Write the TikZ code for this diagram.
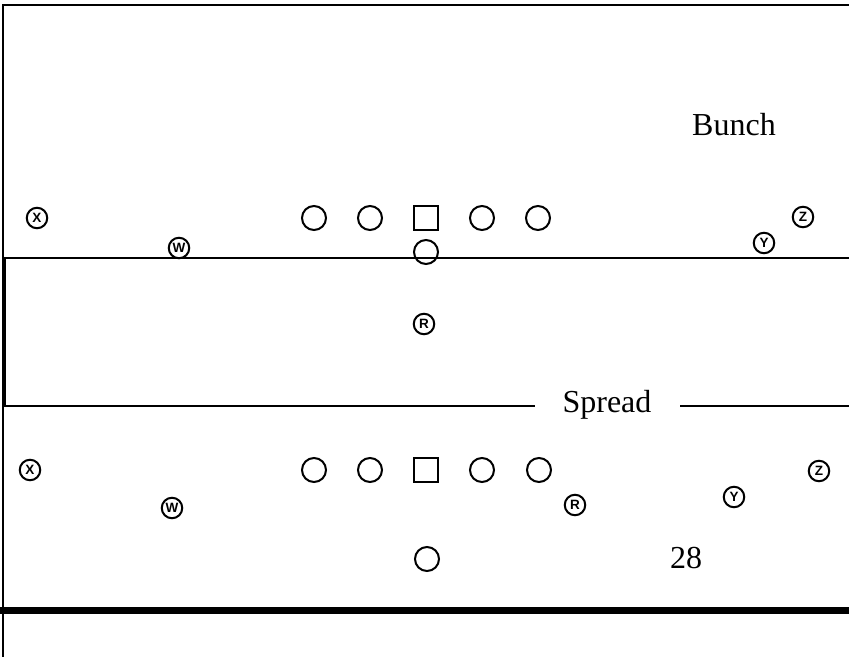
\documentclass[tikz,border=0pt]{standalone}
\usepackage{fontspec}
\setmainfont{Liberation Serif}
\newfontfamily\tagfont{Liberation Sans}
\begin{document}
\begin{tikzpicture}[x=1pt,y=-1pt,
  rule/.style={line width=2pt},
  thickrule/.style={line width=7pt},
  skill/.style={circle,draw,line width=2pt,minimum size=20.5pt,inner sep=0pt,
    font=\tagfont\bfseries\fontsize{13.5}{14}\selectfont},
  lineman/.style={circle,draw,line width=2pt,minimum size=24pt,inner sep=0pt},
  snapper/.style={rectangle,draw,line width=2pt,minimum size=24pt,inner sep=0pt},
  title/.style={anchor=base,inner sep=0pt,font=\fontsize{32}{36}\selectfont}]
\useasboundingbox (0,0) rectangle (849,657);

% field outline and yard lines
\draw[rule] (849,5) -- (3,5) -- (3,657);
\draw[rule] (3,258) -- (849,258);
\draw[rule] (4.8,258) -- (4.8,407);
\draw[thickrule] (0,610) -- (849,610);

% ---- Bunch formation ----
\node[title] (bunch) at (734,135) {Bunch};
\node[lineman] (lt1) at (314,218) {};
\node[lineman] (lg1) at (370,218) {};
\node[snapper] (c1) at (426,218) {};
\node[lineman] (rg1) at (482,218) {};
\node[lineman] (rt1) at (538,218) {};
\node[lineman] (qb1) at (426,252) {};
\node[skill] (x1) at (37,218) {X};
\node[skill] (w1) at (179,248) {W};
\node[skill] (r1) at (424,324) {R};
\node[skill] (y1) at (764,243) {Y};
\node[skill] (z1) at (803,217) {Z};

% ---- Spread formation ----
\node[title] (spread) at (607,412) {Spread};
\coordinate (sl) at (3,406);
\coordinate (sa) at (535,406);
\coordinate (sb) at (680,406);
\coordinate (sr) at (849,406);
\draw[rule] (sl) -- (sa);
\draw[rule] (sb) -- (sr);
\node[lineman] (lt2) at (314,470) {};
\node[lineman] (lg2) at (370,470) {};
\node[snapper] (c2) at (426,470) {};
\node[lineman] (rg2) at (482,470) {};
\node[lineman] (rt2) at (539,470) {};
\node[lineman] (qb2) at (427,559) {};
\node[skill] (x2) at (30,470) {X};
\node[skill] (w2) at (172,508) {W};
\node[skill] (r2) at (575,505) {R};
\node[skill] (y2) at (734,497) {Y};
\node[skill] (z2) at (819,471) {Z};
\node[title] (yd) at (686,568) {28};
\end{tikzpicture}
\end{document}
